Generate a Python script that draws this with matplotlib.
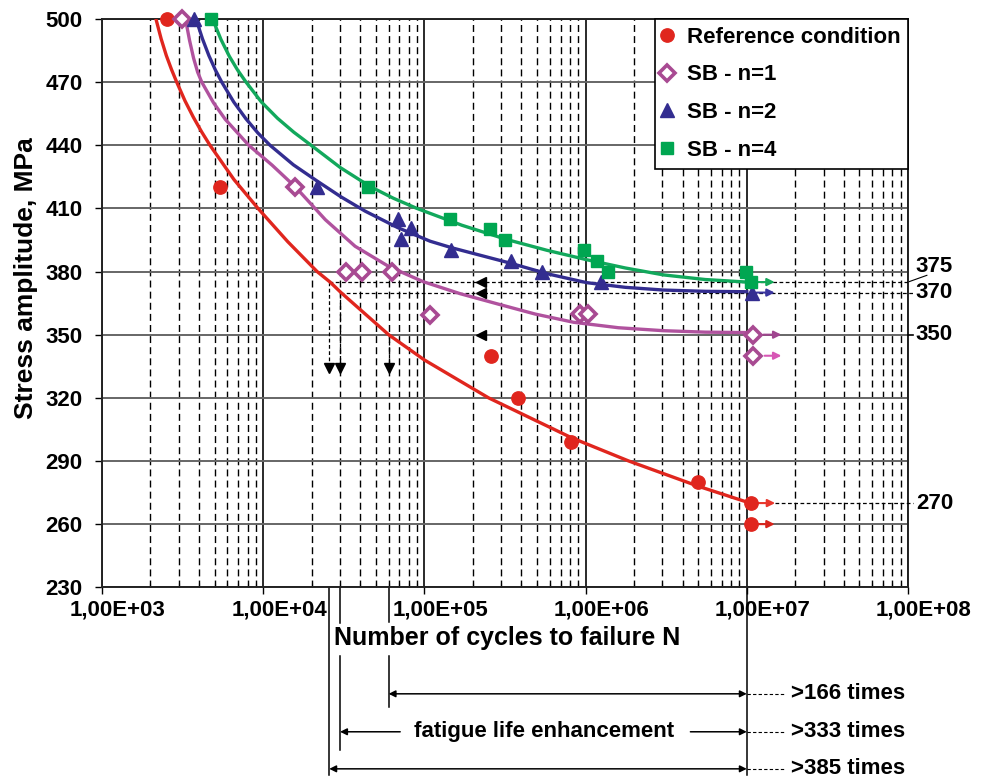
import numpy as np
import matplotlib
matplotlib.use("Agg")
import matplotlib.pyplot as plt
import matplotlib.transforms as mtransforms
from matplotlib.lines import Line2D
from matplotlib.ticker import LogLocator, NullFormatter

plt.rcParams['font.family'] = ['Liberation Sans', 'DejaVu Sans']
plt.rcParams['font.weight'] = 'bold'

# colours
c_ref = '#E0261E'
c_n1 = '#A84A92'
c_n2 = '#332D90'
c_n4 = '#00A651'

# measured points (cycles, stress amplitude MPa)
ref_n = [2540, 5420, 2.58e5, 3.79e5, 8.11e5, 4.97e6]
ref_s = [500, 420, 340, 320, 299, 280]
ref_run_n = [1.06e7, 1.06e7]
ref_run_s = [270, 260]

n1_n = [3140, 1.57e4, 3.27e4, 4.11e4, 6.31e4, 1.08e5, 9.18e5, 1.03e6]
n1_s = [500, 420, 380, 380, 380, 359.5, 360, 360]
n1_run_n = [1.1e7, 1.1e7]
n1_run_s = [350, 340]

n2_n = [3710, 2.15e4, 6.9e4, 8.3e4, 7.15e4, 1.47e5, 3.43e5, 5.38e5, 1.25e6]
n2_s = [500, 420, 405, 400.5, 395.5, 390, 385, 380, 375]
n2_run_n = [1.08e7]
n2_run_s = [370]

n4_n = [4750, 4.5e4, 1.44e5, 2.55e5, 3.16e5, 9.77e5, 1.17e6, 1.38e6, 9.95e6]
n4_s = [500, 420, 405, 400, 395, 390, 385, 380, 380]
n4_run_n = [1.06e7]
n4_run_s = [375]

# fitted curves
ref_curve_n = [2162, 2330, 2508, 2700, 2908, 3274, 3690, 4157, 4677, 6590, 9290, 1.42e4, 2.16e4,
               2.6e4, 3.04e4, 6.0e4, 1.0e5, 2.5e5, 8.2e5, 1.85e6, 5.0e6, 1.0e7]
ref_curve_s = [500, 490.5, 482.6, 476.0, 470, 461.1, 453.3, 446.3, 440, 423.7, 410, 394.2, 380,
               375, 370, 350, 338, 320, 301, 290, 278, 270.5]
n1_curve_n = [3296, 3495, 3703, 3924, 4160, 4918, 5821, 8137, 11380, 15930, 24330, 37180, 60430,
              98240, 1.663e5, 2.817e5, 4.869e5, 8.418e5, 1.599e6, 3.033e6, 5.53e6, 1.0e7]
n1_curve_s = [500, 489.8, 481.3, 474.7, 470, 460.2, 452.3, 440, 430.5, 420, 404.6, 392, 382.3,
              375.2, 369.5, 364.7, 359.8, 355.9, 353.3, 351.9, 351.2, 351]
n2_curve_n = [3832, 4200, 4605, 5050, 5534, 6575, 7814, 9282, 11030, 15400, 21510, 30370, 42890,
              68230, 1.086e5, 1.494e5, 3.406e5, 5.893e5, 1.019e6, 1.762e6, 3.046e6, 5.53e6, 1.0e7]
n2_curve_s = [500, 490.6, 482.6, 475.8, 470, 460.5, 452.6, 445.8, 440, 430.7, 423.1, 415.5, 408.7,
              400.9, 394.4, 391.2, 384, 378.8, 374.7, 372.5, 371.2, 370.6, 370.4]
n4_curve_n = [4852, 5470, 6164, 6944, 7829, 9736, 12280, 15490, 19830, 30220, 46060, 64330, 89790,
              1.708e5, 3.25e5, 5.755e5, 1.019e6, 1.762e6, 3.046e6, 5.53e6, 1.0e7]
n4_curve_s = [500, 490.3, 482.3, 475.7, 470, 460.6, 452.8, 446.2, 440, 429.3, 420.4, 414.8, 410,
              402, 395.2, 390.1, 385.6, 381.7, 378.4, 376.2, 375]

# endurance levels and where the reference curve reaches them
limit_s = [375, 370, 350]
limit_ref_n = [2.57e4, 3.0e4, 6.0e4]
runout_n = 1.0e7
times_labels = ['>385 times', '>333 times', '>166 times']
right_labels = ['375', '370', '350', '270']

legend_labels = ['Reference condition', 'SB - n=1', 'SB - n=2', 'SB - n=4']

fig = plt.figure(figsize=(9.88, 7.8), dpi=100)
ax = fig.add_axes([0.1032, 0.2471, 0.8158, 0.7286])
ax.set_xscale('log')
ax.set_xlim(1e3, 1e8)
ax.set_ylim(230, 500)

decades = [1e3, 1e4, 1e5, 1e6, 1e7, 1e8]
ax.set_xticks(decades)
ax.set_xticklabels(['1,00E+%02d' % int(np.log10(d)) for d in decades])
ax.xaxis.set_minor_locator(LogLocator(base=10, subs=np.arange(2, 10)))
ax.xaxis.set_minor_formatter(NullFormatter())
ax.set_yticks(np.arange(230, 501, 30))

ax.grid(which='major', axis='y', color='#666666', lw=1.4)
ax.grid(which='major', axis='x', color='#2a2a2a', lw=1.4)
ax.grid(which='minor', axis='x', color='black', lw=1.0, ls=(0, (5, 3)))
ax.set_axisbelow(True)
for sp in ax.spines.values():
    sp.set_linewidth(1.4)
    sp.set_color('#222222')

ax.tick_params(axis='x', which='major', direction='out', length=5, width=1, labelsize=16, pad=4)
ax.tick_params(axis='x', which='minor', direction='in', length=3, width=0.8)
ax.tick_params(axis='y', direction='out', length=5, width=1, labelsize=16, pad=9)
shift = mtransforms.ScaledTranslation(0.16, 0, fig.dpi_scale_trans)
for lab in ax.get_xticklabels():
    lab.set_transform(lab.get_transform() + shift)

# curves
ax.plot(ref_curve_n, ref_curve_s, color=c_ref, lw=2.4, zorder=4)
ax.plot(n1_curve_n, n1_curve_s, color='#B0529E', lw=2.4, zorder=4)
ax.plot(n2_curve_n, n2_curve_s, color=c_n2, lw=2.4, zorder=4)
ax.plot(n4_curve_n, n4_curve_s, color='#12A85C', lw=2.4, zorder=4)

# points
kw = dict(ls='none', clip_on=False, zorder=6)
ax.plot(ref_n + ref_run_n, ref_s + ref_run_s, marker='o', ms=9.6, color=c_ref, **kw)
ax.plot(n1_n + n1_run_n, n1_s + n1_run_s, marker='D', ms=8.3, mfc='white', mec=c_n1, mew=2.6, **kw)
ax.plot(n2_n + n2_run_n, n2_s + n2_run_s, marker='^', ms=10, color=c_n2, **kw)
ax.plot(n4_n + n4_run_n, n4_s + n4_run_s, marker='s', ms=8.7, color=c_n4, **kw)

# run-out arrows
runs = [(ref_run_s[0], '#E8362C', 1.15e7, 1.5e7), (ref_run_s[1], '#D8241C', 1.15e7, 1.49e7),
        (n1_run_s[0], '#A0458F', 1.27e7, 1.64e7), (n1_run_s[1], '#D757B5', 1.29e7, 1.64e7),
        (n2_run_s[0], '#3B36A0', 1.15e7, 1.49e7), (n4_run_s[0], '#14A85A', 1.15e7, 1.49e7)]
for s, c, x0, x1 in runs:
    ax.annotate('', xy=(x1, s), xytext=(x0, s),
                arrowprops=dict(arrowstyle='-|>', color=c, lw=1.5, mutation_scale=11,
                                shrinkA=0, shrinkB=0), zorder=5)

# dashed guide lines from endurance levels back to the reference curve
dash = (0, (3, 2))
x_end = 1.08e8
ax.plot([limit_ref_n[0], 1e8], [limit_s[0], limit_s[0]], color='black', lw=0.9, ls=dash, zorder=3)
ax.plot([limit_ref_n[1], x_end], [limit_s[1], limit_s[1]], color='black', lw=0.9, ls=dash, zorder=3, clip_on=False)
ax.plot([1e8, x_end], [limit_s[2], limit_s[2]], color='black', lw=1.2, zorder=3, clip_on=False)
ax.plot([1.5e7, x_end], [270, 270], color='black', lw=0.9, ls=dash, zorder=3, clip_on=False)
ax.plot([1e8, 1.31e8], [375, 378.2], color='black', lw=0.8, clip_on=False)
ax.plot([2.24e5] * 3, limit_s, ls='none', marker='<', ms=7, color='black', zorder=5)
for n, s in zip(limit_ref_n, limit_s):
    ax.plot([n, n], [s, 334], color='black', lw=0.9, ls=dash, zorder=3)
ax.plot(limit_ref_n, [334] * 3, ls='none', marker='v', ms=7, color='black', zorder=5)

for lab, s in zip(right_labels, [382.5, 370, 350, 270]):
    ax.text(1.12e8, s, lab, fontsize=16, fontweight='bold', ha='left', va='center', clip_on=False)

# axis titles
ax.text(-0.094, 0.544, 'Stress amplitude, MPa', transform=ax.transAxes, rotation=90,
        fontsize=19, fontweight='bold', ha='center', va='center')
ax.text(0.503, -0.089, 'Number of cycles to failure N', transform=ax.transAxes,
        fontsize=18, fontweight='bold', ha='center', va='center')

# fatigue life enhancement annotation below the axis
bt = mtransforms.blended_transform_factory(ax.transData, ax.transAxes)
vl = dict(color='black', lw=1.1, transform=bt, clip_on=False)
ax.plot([limit_ref_n[0]] * 2, [0, -0.330], **vl)
ax.plot([limit_ref_n[1]] * 2, [0, -0.063], **vl)
ax.plot([limit_ref_n[1]] * 2, [-0.121, -0.286], **vl)
ax.plot([limit_ref_n[2]] * 2, [0, -0.061], **vl)
ax.plot([limit_ref_n[2]] * 2, [-0.121, -0.210], **vl)
ax.plot([runout_n] * 2, [0, -0.330], **vl)

rows = [-0.3195, -0.2543, -0.1875]
ap = dict(arrowstyle='<|-|>', color='black', lw=1.1, mutation_scale=10, shrinkA=0, shrinkB=0)
ap1 = dict(arrowstyle='-|>', color='black', lw=1.1, mutation_scale=10, shrinkA=0, shrinkB=0)
for n, y, lab in zip(limit_ref_n, rows, times_labels):
    if lab == '>333 times':
        ax.annotate('', xy=(n, y), xytext=(7.08e4, y), xycoords=('data', 'axes fraction'),
                    textcoords=('data', 'axes fraction'), arrowprops=ap1, annotation_clip=False)
        ax.annotate('', xy=(runout_n, y), xytext=(4.47e6, y), xycoords=('data', 'axes fraction'),
                    textcoords=('data', 'axes fraction'), arrowprops=ap1, annotation_clip=False)
        ax.text(5.53e5, y, 'fatigue life enhancement', transform=bt, fontsize=16,
                fontweight='bold', ha='center', va='center')
    else:
        ax.annotate('', xy=(runout_n, y), xytext=(n, y), xycoords=('data', 'axes fraction'),
                    textcoords=('data', 'axes fraction'), arrowprops=ap, annotation_clip=False)
    ax.plot([runout_n, 1.73e7], [y, y], color='black', lw=0.8, ls=dash, transform=bt, clip_on=False)
    ax.text(1.87e7, y, lab, transform=bt, fontsize=16, fontweight='bold', ha='left', va='center')

# legend
handles = [Line2D([], [], ls='none', marker='o', ms=9.6, color=c_ref),
           Line2D([], [], ls='none', marker='D', ms=8.3, mfc='white', mec=c_n1, mew=2.6),
           Line2D([], [], ls='none', marker='^', ms=10, color=c_n2),
           Line2D([], [], ls='none', marker='s', ms=8.7, color=c_n4)]
leg = ax.legend(handles, legend_labels, loc='upper right', bbox_to_anchor=(1, 1), borderaxespad=0,
                prop=dict(size=16, weight='bold'), frameon=True, fancybox=False, edgecolor='black',
                framealpha=1, borderpad=0.35, labelspacing=0.75, handlelength=0.4, handletextpad=0.67)
leg.get_frame().set_linewidth(1.2)
leg.set_zorder(10)

fig.savefig('out.png', dpi=100)
